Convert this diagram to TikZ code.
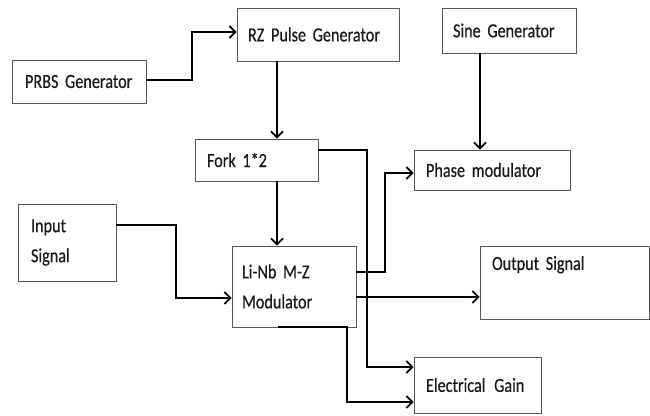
\documentclass[tikz,border=0pt]{standalone}
\usepackage{fontspec}
\setmainfont{Carlito}[FakeStretch=0.81,FakeBold=0.4]
\usetikzlibrary{arrows.meta}
\newcommand\myblkfont{\fontsize{20}{30}\selectfont\spaceskip=3pt plus 1pt\relax}
\begin{document}
\begin{tikzpicture}[x=1pt,y=-1pt,
  blk/.style={draw=black!65, line width=0.8pt, fill=white, inner ysep=0pt, align=left,
    font=\myblkfont, text=black!90},
  conn/.style={line width=2pt, -{Straight Barb[length=6pt,width=12pt,line width=1.8pt]}}]
\useasboundingbox (0,0) rectangle (650,415);
\node[blk, inner xsep=13pt, text width=108pt, minimum height=43pt] (prbs) at (79,81.5) {PRBS Generator};
\node[blk, inner xsep=11pt, text width=140pt, minimum height=53pt] (rz) at (318,34.5) {RZ Pulse Generator};
\node[blk, inner xsep=12pt, text width=99pt, minimum height=42pt] (fork) at (256.5,160) {Fork 1*2};
\node[blk, inner xsep=11pt, text width=112pt, minimum height=45pt] (sine) at (509,30.5) {Sine Generator};
\node[blk, inner xsep=12pt, text width=132pt, minimum height=40pt] (phase) at (492,170) {Phase modulator};
\node[blk, inner xsep=13pt, text width=72pt, minimum height=77pt] (input) at (67,242.5) {Input\\Signal};
\node[blk, inner xsep=10pt, text width=104pt, minimum height=81pt] (mz) at (294,286.5) {Li-Nb M-Z\\Modulator};
\node[blk, inner xsep=12pt, text width=145pt, minimum height=73pt] (out) at (564.5,282.5) {Output Signal\\\strut};
\node[blk, inner xsep=12pt, text width=103pt, minimum height=56pt] (gain) at (477.5,385) {Electrical\hspace{2pt} Gain};
% connectors
\draw[conn] (prbs.east |- 0,80) -| (192,32) -- (rz.west |- 0,32);
\draw[conn] (277,0 |- rz.south) -- (277,0 |- fork.north);
\draw[conn] (277,0 |- fork.south) -- (277,0 |- mz.north);
\draw[conn] (480,0 |- sine.south) -- (480,0 |- phase.north);
\draw[conn] (input.east |- 0,225) -| (176,298) -- (mz.west |- 0,298);
\draw[conn] (fork.east |- 0,150) -| (367,367) -- (gain.west |- 0,367);
\draw[conn] (mz.east |- 0,272) -| (385,173) -- (phase.west |- 0,173);
\draw[conn] (mz.east |- 0,297) -- (out.west |- 0,297);
\draw[conn] (278,0 |- mz.south) -| (347,402) -- (gain.west |- 0,402);
\end{tikzpicture}
\end{document}
